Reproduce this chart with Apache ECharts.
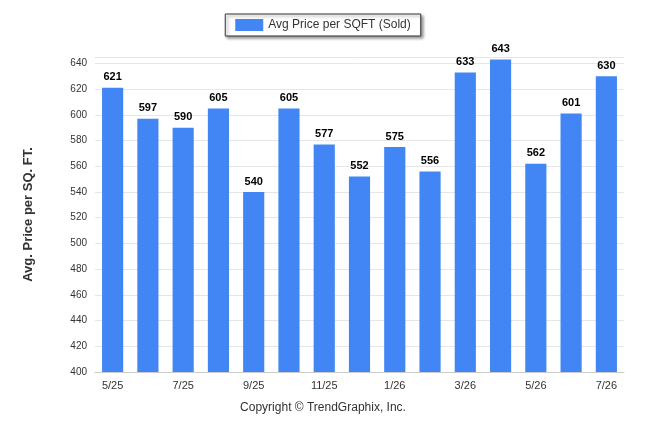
<!DOCTYPE html>
<html>
<head>
<meta charset="utf-8">
<script src="https://cdn.jsdelivr.net/npm/echarts@6/dist/echarts.min.js"></script>
<style>html,body{margin:0;padding:0;background:#fff}#chart{width:646px;height:434px}</style>
</head>
<body>
<div id="chart"></div>
<script>
const months = ["5/25","6/25","7/25","8/25","9/25","10/25","11/25","12/25","1/26","2/26","3/26","4/26","5/26","6/26","7/26"];
const avgPrice = [621,597,590,605,540,605,577,552,575,556,633,643,562,601,630];

const chart = echarts.init(document.getElementById("chart"));
chart.setOption({
  animation: false,
  legend: {
    top: 14,
    left: "center",
    data: ["Avg Price per SQFT (Sold)"],
    icon: "rect",
    itemWidth: 28,
    itemHeight: 12,
    padding: [5, 10],
    borderColor: "#333",
    borderWidth: 1,
    shadowColor: "rgba(0,0,0,0.4)",
    shadowBlur: 3,
    shadowOffsetX: 2,
    shadowOffsetY: 2,
    backgroundColor: "#fff",
    textStyle: { fontFamily: "Arial, Liberation Sans", fontSize: 12, color: "#333" }
  },
  grid: { left: 95, right: 22, top: 57, bottom: 62 },
  xAxis: {
    type: "category",
    data: months,
    axisTick: { show: false },
    axisLine: { lineStyle: { color: "#ccc" } },
    axisLabel: { color: "#333", fontSize: 11, fontFamily: "Arial, Liberation Sans" }
  },
  yAxis: {
    type: "value",
    min: 400,
    max: 645,
    interval: 20,
    name: "Avg. Price per SQ. FT.",
    nameLocation: "middle",
    nameGap: 60,
    nameTextStyle: { fontWeight: "bold", fontSize: 13, color: "#333", fontFamily: "Arial, Liberation Sans" },
    axisLabel: { showMaxLabel: false, color: "#333", fontSize: 10, fontFamily: "Arial, Liberation Sans" },
    splitLine: { lineStyle: { color: "#e6e6e6" } }
  },
  graphic: [{
    type: "text",
    left: "center",
    top: 402,
    style: { text: "Copyright © TrendGraphix, Inc.", fontSize: 12, fill: "#333", fontFamily: "Arial, Liberation Sans" }
  }],
  series: [{
    name: "Avg Price per SQFT (Sold)",
    type: "bar",
    data: avgPrice,
    barWidth: "60%",
    itemStyle: { color: "#4285F4" },
    label: { show: true, position: "top", fontWeight: "bold", fontSize: 11, color: "#000", fontFamily: "Arial, Liberation Sans" }
  }]
});
</script>
</body>
</html>
